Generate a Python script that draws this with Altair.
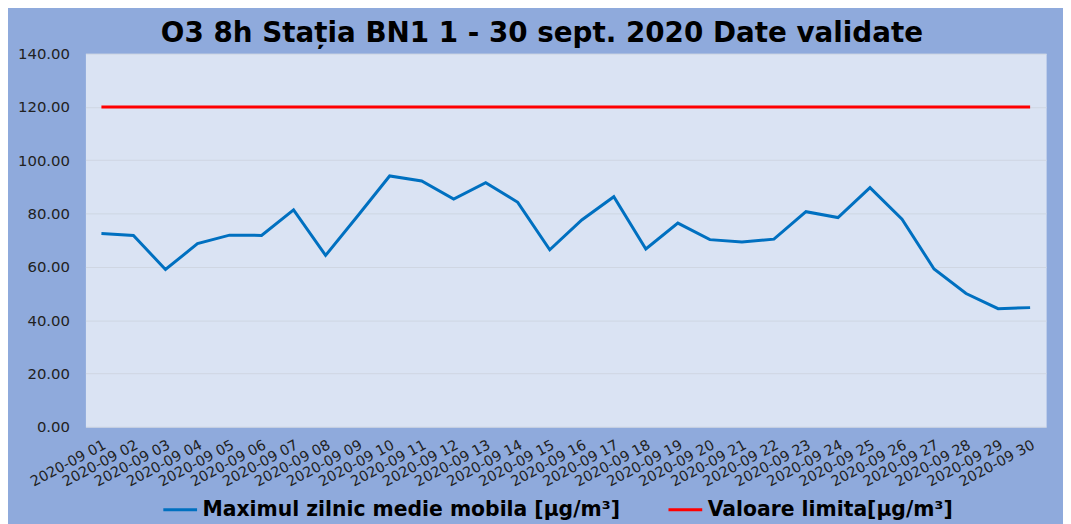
import altair as alt
import pandas as pd

days = ["2020-09 %02d" % d for d in range(1, 31)]
maxim = [72.5, 71.8, 59.0, 68.7, 71.9, 71.8, 81.4, 64.3, 79.1, 94.1,
         92.2, 85.4, 91.6, 84.2, 66.4, 77.6, 86.3, 66.7, 76.4, 70.2,
         69.3, 70.4, 80.7, 78.5, 89.7, 77.9, 59.2, 50.0, 44.3, 44.7]
limita = [120.0] * 30
series_names = ["Maximul zilnic medie mobila [µg/m³]", "Valoare limita[µg/m³]"]
series_colors = ["#0070c0", "#ff0000"]
title_text = "O3 8h Stația BN1 1 - 30 sept. 2020 Date validate"

df = pd.DataFrame({
    "zi": days + days,
    "valoare": maxim + limita,
    "serie": [series_names[0]] * 30 + [series_names[1]] * 30,
})

FONT = "DejaVu Sans"

chart = alt.Chart(df).mark_line(strokeWidth=3).encode(
    x=alt.X("zi:O", sort=days, title=None,
            axis=alt.Axis(labelAngle=-28, ticks=False, domain=False, grid=False,
                          labelFont=FONT, labelFontSize=14.5, labelColor="#222222",
                          labelPadding=11)),
    y=alt.Y("valoare:Q", title=None,
            scale=alt.Scale(domain=[0, 140]),
            axis=alt.Axis(values=[0, 20, 40, 60, 80, 100, 120, 140], format=".2f",
                          ticks=False, domain=False, grid=True, gridColor="#cfd6e2",
                          labelFont=FONT, labelFontSize=15, labelColor="#222222",
                          labelPadding=16)),
    color=alt.Color("serie:N", sort=series_names,
                    scale=alt.Scale(domain=series_names, range=series_colors),
                    legend=alt.Legend(title=None, orient="none", legendX=77, legendY=441,
                                      direction="horizontal", symbolType="stroke",
                                      symbolStrokeWidth=3, symbolSize=1156,
                                      columnPadding=42, labelOffset=4, padding=0,
                                      labelFont=FONT, labelFontWeight="bold",
                                      labelFontSize=20.5, labelColor="#000000",
                                      labelLimit=600)),
).properties(
    width=968,
    height=376,
    title=alt.TitleParams(title_text, font=FONT, fontSize=28, fontWeight="bold",
                          color="#000000", anchor="middle", dx=-24, dy=5, offset=4),
    autosize=alt.AutoSizeParams(type="none"),
    padding={"left": 78, "top": 44, "right": 17, "bottom": 96},
).configure(
    background="#8faadc",
).configure_view(
    fill="#dae3f3",
    stroke="transparent",
)

chart.save("out.html", embed_options={"renderer": "svg", "actions": False})
